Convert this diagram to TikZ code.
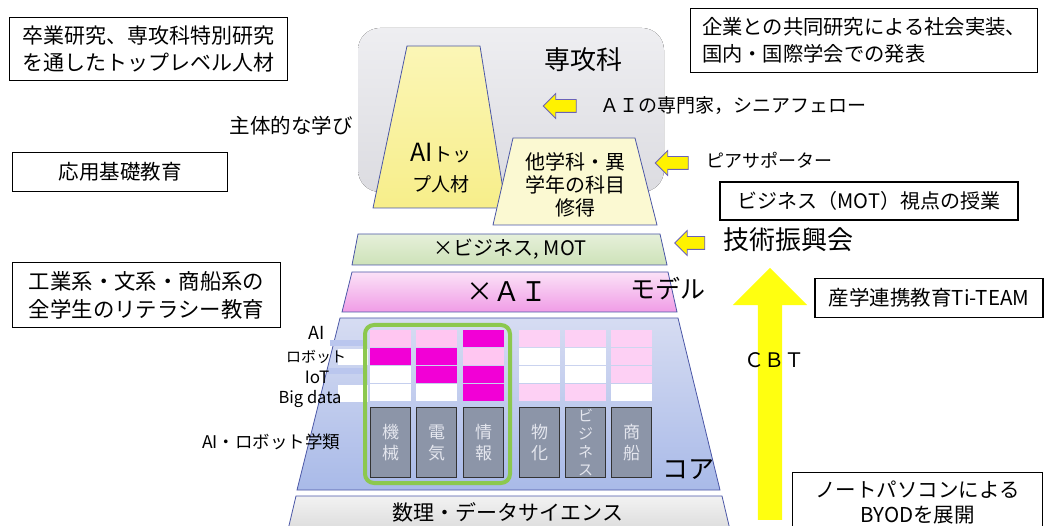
\documentclass[tikz,border=0pt]{standalone}
\usepackage{fontspec}
\setmainfont{Noto Sans CJK JP}
\usetikzlibrary{shapes.arrows}

\definecolor{edgeblue}{HTML}{4A56A6}
\definecolor{arrowedge}{HTML}{6A62B8}
\definecolor{graytop}{HTML}{EEEEF1}
\definecolor{graybot}{HTML}{DCDCE1}
\definecolor{ylwtop}{HTML}{FBF6B6}
\definecolor{ylwbot}{HTML}{F7EE8A}
\definecolor{ylwpale}{HTML}{FBF9D2}
\definecolor{grntop}{HTML}{E6F0DA}
\definecolor{grnbot}{HTML}{CDE2B8}
\definecolor{pnktop}{HTML}{FBE2F7}
\definecolor{pnkbot}{HTML}{F09CE6}
\definecolor{coretop}{HTML}{D6DCF2}
\definecolor{corebot}{HTML}{A9BAE8}
\definecolor{mathtop}{HTML}{F2F2F2}
\definecolor{mathbot}{HTML}{DADADA}
\definecolor{pk}{HTML}{FFC6F1}
\definecolor{pklite}{HTML}{FDD0F4}
\definecolor{mg}{HTML}{F200D6}
\definecolor{subjgray}{HTML}{8C95A8}
\definecolor{subjtext}{HTML}{E4E6EE}
\definecolor{grn}{HTML}{8CC84E}
\definecolor{bandblue}{HTML}{BAC6EE}
\definecolor{bigyellow}{HTML}{FFFF10}

\newcommand{\fz}[2]{\fontsize{#1}{#2}\selectfont}

\begin{document}
\begin{tikzpicture}[x=1pt, y=-1pt,
    sidebox/.style={draw=black, line width=1.1pt, fill=white, inner xsep=10pt, inner ysep=3pt},
    layer/.style={draw=edgeblue, line width=0.8pt},
    yarrow/.style={single arrow, draw=arrowedge, line width=0.8pt, fill=yellow,
        single arrow head extend=6pt, minimum height=33pt,
        inner sep=6pt, shape border rotate=180},
    cell/.style={minimum width=41pt, minimum height=17pt, inner sep=0pt, anchor=north west},
    subject/.style={draw=black!80, line width=1.3pt, fill=subjgray, minimum width=40pt,
        minimum height=70pt, inner sep=0pt, anchor=north west, text=subjtext,
        align=center, font=\fz{17}{21}},
    rowlabel/.style={inner sep=0pt},
    ]
    \useasboundingbox (0,0) rectangle (1049,526);

    % upper part
    \fill[top color=graytop, bottom color=graybot, rounded corners=22] (358,28) rectangle (664,192);
    \node[font=\fz{26}{26}] (SENKO) at (583,60) {専攻科};
    \draw[layer, top color=ylwtop, bottom color=ylwbot] (407,46) -- (480,46) -- (506,208) -- (373,208) -- cycle;
    \node[font=\fz{19}{30}, align=center] (AIT) at (441,168) {{\fz{25}{30}AI}トッ\\プ人材};
    \draw[layer, fill=ylwpale] (513,138) -- (635,138) -- (657,225) -- (493,225) -- cycle;
    \node[font=\fz{20}{23}, align=center] (OTH) at (575,185) {他学科・異\\学年の科目\\修得};
    \node[font=\fz{20.5}{20.5}] (SHUTAI) at (291,126) {主体的な学び};

    % pyramid layers
    \draw[layer, top color=grntop, bottom color=grnbot] (358,234) -- (660,234) -- (667,265) -- (352,265) -- cycle;
    \node[font=\fz{20}{20}] (BIZ) at (510,249) {×ビジネス, MOT};
    \draw[layer, top color=pnktop, bottom color=pnkbot] (352,272) -- (668,272) -- (677,312) -- (342,312) -- cycle;
    \node[font=\fz{27}{27}] (XAI) at (507,292) {×ＡＩ};
    \node[font=\fz{25}{25}] (MODEL) at (668,289) {モデル};
    \draw[layer, top color=coretop, bottom color=corebot] (340,318) -- (678,318) -- (720,490) -- (297,490) -- cycle;
    \draw[layer, top color=mathtop, bottom color=mathbot] (296,496) -- (722,496) -- (731,534) -- (287,534) -- cycle;
    \node[font=\fz{21}{21}] (MATH) at (508,512) {数理・データサイエンス};
    \node[font=\fz{26}{26}] (CORE) at (688,470) {コア};

    % row bands and labels
    \fill[bandblue] (330,340) rectangle (366,346);
    \fill[white] (338,349) rectangle (368,365);
    \fill[bandblue] (328,368) rectangle (366,374);
    \fill[white] (338,385) rectangle (368,402);
    \node[rowlabel, font=\fz{18}{18}] (LAI) at (317,333) {AI};
    \node[rowlabel, font=\fz{15}{15}] (LROBO) at (316,357) {ロボット};
    \node[rowlabel, font=\fz{17}{17}] (LIOT) at (317,377) {IoT};
    \node[rowlabel, font=\fz{16.5}{16.5}] (LBIG) at (310,399) {Big data};
    \node[anchor=east, font=\fz{17.5}{17.5}] (RUI) at (344,442) {AI・ロボット学類};

    % cells
    \foreach \cx/\ca/\cb/\cc/\cd in {370/pk/mg/white/white, 416/pk/mg/mg/white,
        463/mg/pk/mg/mg, 519/pklite/white/white/pklite, 565/pklite/white/white/pklite,
        611/pklite/pklite/pklite/white} {
        \node[cell, fill=\ca] at (\cx,330) {};
        \node[cell, fill=\cb] at (\cx,348) {};
        \node[cell, fill=\cc] at (\cx,366) {};
        \node[cell, fill=\cd] at (\cx,384) {};
    }
    \node[subject] (KIKAI) at (370,407) {機\\械};
    \node[subject] (DENKI) at (416,407) {電\\気};
    \node[subject] (JOHO) at (463,407) {情\\報};
    \node[subject] (BUKKA) at (519,407) {物\\化};
    \node[subject, font=\fz{15}{18}] (BUSI) at (565,407) {ビ\\ジ\\ネ\\ス};
    \node[subject] (SHOSEN) at (611,407) {商\\船};
    \draw[grn, line width=4pt, rounded corners=9] (365,325) rectangle (510,483);

    % arrows
    \node[single arrow, fill=bigyellow, minimum height=252pt,
        single arrow head extend=25pt, inner sep=12pt, shape border rotate=90] (CBTA) at (770,400) {};
    \node[font=\fz{20}{20}] (CBT) at (774,360) {ＣＢＴ};
    \node[yarrow] (A1) at (563,106) {};
    \node[anchor=west, font=\fz{19}{19}] (EXPERT) at (597,106) {ＡＩの専門家，シニアフェロー};
    \node[yarrow] (A2) at (675,163) {};
    \node[anchor=west, font=\fz{18}{18}] (PEER) at (703,160) {ピアサポーター};
    \node[yarrow, minimum height=30pt] (A3) at (693,243) {};
    \node[anchor=west, font=\fz{26}{26}] (GIJUTSU) at (720,240) {技術振興会};

    % side boxes
    \node[sidebox, anchor=north west, minimum width=278pt, minimum height=63pt, align=left,
        font=\fz{21}{27}] (TOPL) at (9,17) {卒業研究、専攻科特別研究\\を通したトップレベル人材};
    \node[sidebox, minimum width=215pt, minimum height=39pt, font=\fz{20.5}{20.5}] (OUYOU) at (120,172) {応用基礎教育};
    \node[sidebox, anchor=north west, minimum width=268pt, minimum height=65pt, align=left,
        font=\fz{21.4}{28}] (LIT) at (12,262) {工業系・文系・商船系の\\全学生のリテラシー教育};
    \node[sidebox, anchor=north west, minimum width=347pt, minimum height=64pt, align=left,
        font=\fz{20.3}{27}] (KIGYO) at (690,8) {企業との共同研究による社会実装、\\国内・国際学会での発表};
    \node[sidebox, minimum width=298pt, minimum height=38pt, font=\fz{20}{20}] (MOT) at (869,201) {ビジネス（MOT）視点の授業};
    \node[sidebox, minimum width=228pt, minimum height=39pt, font=\fz{20.5}{20.5}] (TITEAM) at (929,298) {産学連携教育Ti-TEAM};
    \node[sidebox, anchor=north west, minimum width=250pt, minimum height=60pt, align=center,
        inner ysep=6pt, font=\fz{20.5}{25}] (BYOD) at (792,472) {ノートパソコンによる\\BYODを展開};
\end{tikzpicture}
\end{document}
